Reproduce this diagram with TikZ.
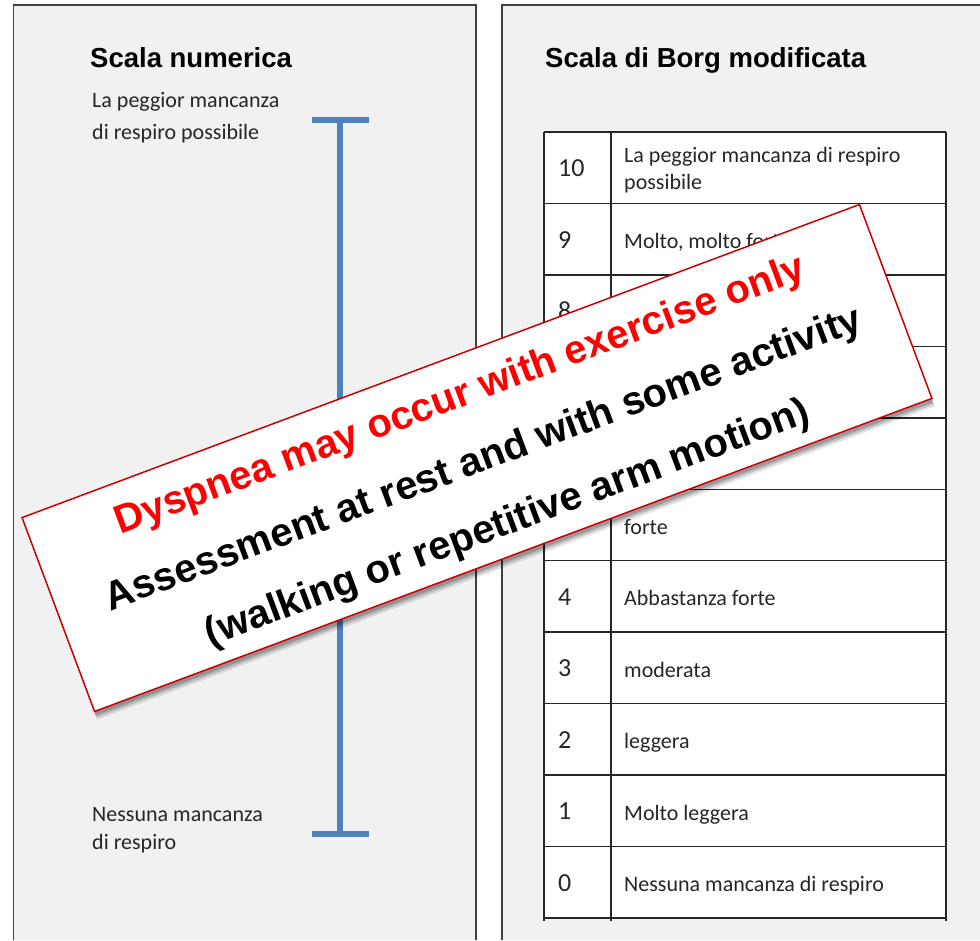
\documentclass[tikz,border=0pt]{standalone}
\usepackage{fontspec}
\setmainfont{Carlito}
\newfontfamily\arialfont{Liberation Sans}
\usetikzlibrary{shadows}

\definecolor{panelgray}{RGB}{241,241,241}
\definecolor{framegray}{RGB}{64,64,64}
\definecolor{barblue}{RGB}{79,129,189}
\definecolor{bannerred}{RGB}{204,0,0}
\definecolor{textred}{RGB}{255,0,0}

\begin{document}
\begin{tikzpicture}[
    x=1pt, y=-1pt,
    frame/.style={draw=framegray, line width=1.5pt},
    title/.style={anchor=base west, inner sep=0, font=\arialfont\bfseries\fontsize{27.5}{33}\selectfont},
    sidetext/.style={anchor=base west, inner sep=0, font=\fontsize{22}{27}\selectfont, text=black!85},
    cell/.style={anchor=base west, inner sep=0, font=\fontsize{22}{27}\selectfont, text=black!85},
    num/.style={anchor=base west, inner sep=0, font=\fontsize{26}{30}\selectfont, text=black!85},
    bar/.style={barblue, line width=6pt},
    grid/.style={draw=black!85, line width=1.5pt},
    banner/.style={draw=bannerred, line width=1.5pt, fill=white, rotate=20.5, inner sep=0,
        minimum width=894pt, minimum height=207pt,
        drop shadow={shadow xshift=3pt, shadow yshift=-8pt, opacity=0.10, fill=black},
        drop shadow={shadow xshift=2pt, shadow yshift=-6pt, opacity=0.15, fill=black},
        drop shadow={shadow xshift=1pt, shadow yshift=-4pt, opacity=0.20, fill=black}},
    notetext/.style={rotate=20.5, inner sep=0, align=center,
        font=\arialfont\bfseries\fontsize{40}{68}\selectfont}
]

\path[use as bounding box, fill=white] (0,0) rectangle (980,940);

% two panels
\fill[panelgray] (13.5,5) rectangle (476,940);
\draw[frame] (13.5,940) -- (13.5,5) -- (476,5) -- (476,940);
\fill[panelgray] (502,5) rectangle (980,940);
\draw[frame] (502,940) -- (502,5) -- (980,5);

\node[title] (numtitle) at (90,67) {Scala numerica};
\node[title] (borgtitle) at (545,67) {Scala di Borg modificata};

% left: numeric scale
\node[sidetext] (worst1) at (92,107) {La peggior mancanza};
\node[sidetext] (worst2) at (92,139.5) {di respiro possibile};
\node[sidetext] (none1) at (92,821) {Nessuna mancanza};
\node[sidetext] (none2) at (92,849) {di respiro};

\coordinate (bartop) at (340,120);
\coordinate (barbot) at (340,834);
\draw[bar] (bartop) -- (barbot);
\draw[bar] ([xshift=-28pt]bartop) -- ([xshift=29pt]bartop);
\draw[bar] ([xshift=-28pt]barbot) -- ([xshift=29pt]barbot);

% right: Borg table
\fill[white] (544,132) rectangle (946,918);
\foreach \k in {0,...,11}
    \draw[grid] (544,{132+71.45*\k}) -- (946,{132+71.45*\k});
\foreach \c in {544,611,946}
    \draw[grid] (\c,132) -- (\c,921);

\foreach \n in {10,9,8,4,3,2,1,0}
    \node[num] (n\n) at (558,{132+71.45*(10.5-\n)+9}) {\n};

\node[cell] (t10a) at (624,162) {La peggior mancanza di respiro};
\node[cell] (t10b) at (624,189.5) {possibile};
\foreach \n/\t in {9/{Molto, molto forte},5/forte,4/Abbastanza forte,3/moderata,
                   2/leggera,1/Molto leggera,0/Nessuna mancanza di respiro}
    \node[cell] (t\n) at (624,{132+71.45*(10.5-\n)+9.5}) {\t};

% overlay note
\node[banner] (note) at (477,458) {};
\node[notetext] (notetext) at ([xshift=7pt,yshift=-2.5pt]note.center)
    {\textcolor{textred}{Dyspnea may occur with exercise only}\\
     Assessment at rest and with some activity\\
     (walking or repetitive arm motion)};

\end{tikzpicture}
\end{document}
